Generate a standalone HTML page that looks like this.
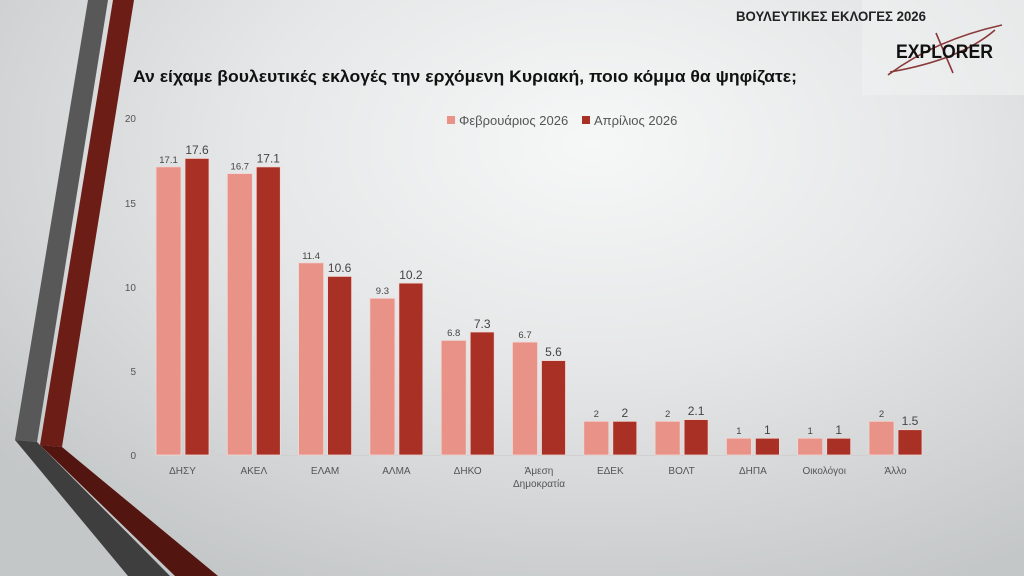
<!DOCTYPE html>
<html><head><meta charset="utf-8"><style>
html,body{margin:0;padding:0;}
body{width:1024px;height:576px;overflow:hidden;background:radial-gradient(ellipse 75% 85% at 58% 25%,#f6f7f7 0%,#e6e7e8 45%,#c4c7c8 100%);font-family:"Liberation Sans","DejaVu Sans",sans-serif;}
svg{position:absolute;left:0;top:0}
</style></head><body>
<svg width="1024" height="576" viewBox="0 0 1024 576">
<rect x="862" y="0" width="162" height="95" fill="#f0f1f1" opacity="0.6"/>
<polygon points="88,0 108,0 37,442 15,440" fill="#585858"/>
<polygon points="15,440 37,442 170,576 128,576" fill="#3e3e3e"/>
<polygon points="113,0 134,0 62,447 40,445" fill="#6c1d16"/>
<polygon points="40,445 62,447 218,576 175,576" fill="#531510"/>
<text x="736" y="21" font-size="14" font-weight="bold" fill="#222" textLength="190" lengthAdjust="spacingAndGlyphs">ΒΟΥΛΕΥΤΙΚΕΣ ΕΚΛΟΓΕΣ 2026</text>
<g stroke="#8a3a3a" stroke-width="1.6" fill="none">
<path d="M888 75 Q935 40 1002 25"/><path d="M890 72 Q960 60 995 30"/><path d="M936 33 L953 73"/>
</g>
<text x="896" y="58" font-size="19" font-weight="bold" fill="#111" textLength="97" lengthAdjust="spacingAndGlyphs">EXPLORER</text>
<text x="133" y="82" font-size="17" font-weight="bold" fill="#111" textLength="664" lengthAdjust="spacingAndGlyphs">Αν είχαμε βουλευτικές εκλογές την ερχόμενη Κυριακή, ποιο κόμμα θα ψηφίζατε;</text>
<rect x="447" y="116" width="8" height="8" fill="#e89288"/>
<text x="459" y="125" font-size="13" fill="#555">Φεβρουάριος 2026</text>
<rect x="582" y="116" width="8" height="8" fill="#a83025"/>
<text x="594" y="125" font-size="13" fill="#555">Απρίλιος 2026</text>
<g font-size="10" fill="#555" text-anchor="end">
<text x="136" y="122">20</text><text x="136" y="207">15</text><text x="136" y="291">10</text><text x="136" y="375">5</text><text x="136" y="459">0</text>
</g>
<line x1="148" y1="455.5" x2="930" y2="455.5" stroke="#d0d0d0" stroke-width="1"/>
<g stroke="#f0d8d4" stroke-width="0.8">
<g fill="#e89288">
<rect x="156" y="166.9" width="25" height="288.1"/>
<rect x="227.3" y="173.6" width="25" height="281.4"/>
<rect x="298.6" y="262.9" width="25" height="192.1"/>
<rect x="369.9" y="298.3" width="25" height="156.7"/>
<rect x="441.2" y="340.4" width="25" height="114.6"/>
<rect x="512.5" y="342.1" width="25" height="112.9"/>
<rect x="583.8" y="421.3" width="25" height="33.7"/>
<rect x="655.1" y="421.3" width="25" height="33.7"/>
<rect x="726.4" y="438.2" width="25" height="16.8"/>
<rect x="797.7" y="438.2" width="25" height="16.8"/>
<rect x="869" y="421.3" width="25" height="33.7"/>
</g>
<g fill="#a83025">
<rect x="185" y="158.4" width="24" height="296.6"/>
<rect x="256.3" y="166.9" width="24" height="288.1"/>
<rect x="327.6" y="276.4" width="24" height="178.6"/>
<rect x="398.9" y="283.1" width="24" height="171.9"/>
<rect x="470.2" y="332" width="24" height="123"/>
<rect x="541.5" y="360.6" width="24" height="94.4"/>
<rect x="612.8" y="421.3" width="24" height="33.7"/>
<rect x="684.1" y="419.6" width="24" height="35.4"/>
<rect x="755.4" y="438.2" width="24" height="16.8"/>
<rect x="826.7" y="438.2" width="24" height="16.8"/>
<rect x="898" y="429.7" width="24" height="25.3"/>
</g>
</g>
<g font-size="9.5" fill="#444" text-anchor="middle">
<text x="168.5" y="163">17.1</text><text x="239.8" y="169.5">16.7</text><text x="311.1" y="259">11.4</text><text x="382.4" y="294">9.3</text><text x="453.7" y="336">6.8</text><text x="525" y="338">6.7</text><text x="596.3" y="417">2</text><text x="667.6" y="417">2</text><text x="738.9" y="434">1</text><text x="810.2" y="434">1</text><text x="881.5" y="417">2</text>
</g>
<g font-size="12" fill="#444" text-anchor="middle">
<text x="197" y="154">17.6</text><text x="268.3" y="162.5">17.1</text><text x="339.6" y="272">10.6</text><text x="410.9" y="279">10.2</text><text x="482.2" y="328">7.3</text><text x="553.5" y="356">5.6</text><text x="624.8" y="417">2</text><text x="696.1" y="415">2.1</text><text x="767.4" y="434">1</text><text x="838.7" y="434">1</text><text x="910" y="425">1.5</text>
</g>
<g font-size="10" fill="#555" text-anchor="middle">
<text x="182.5" y="474">ΔΗΣΥ</text><text x="253.8" y="474">ΑΚΕΛ</text><text x="325.1" y="474">ΕΛΑΜ</text><text x="396.4" y="474">ΑΛΜΑ</text><text x="467.7" y="474">ΔΗΚΟ</text><text x="539" y="474">Άμεση</text><text x="539" y="487">Δημοκρατία</text><text x="610.3" y="474">ΕΔΕΚ</text><text x="681.6" y="474">ΒΟΛΤ</text><text x="752.9" y="474">ΔΗΠΑ</text><text x="824.2" y="474">Οικολόγοι</text><text x="895.5" y="474">Άλλο</text>
</g>
</svg>
</body></html>
